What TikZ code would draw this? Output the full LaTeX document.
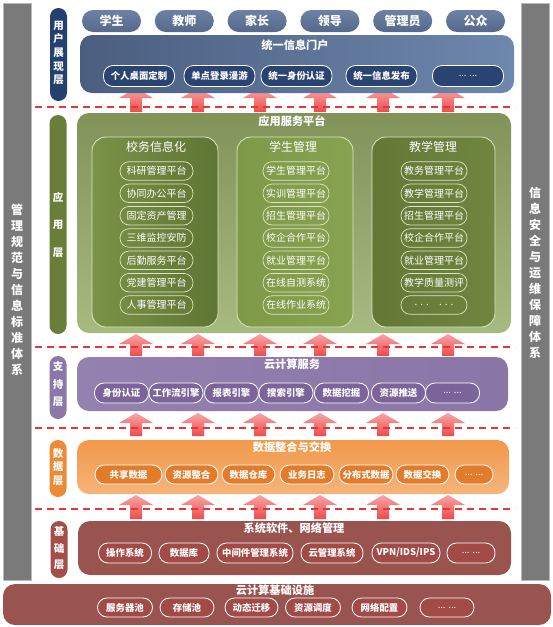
\documentclass[tikz,border=0pt]{standalone}
\usepackage{fontspec}
\setmainfont{Noto Sans CJK SC}
\usepackage{tikz}
\usetikzlibrary{positioning}
\definecolor{barg}{HTML}{7A7A7A}
\definecolor{userc}{HTML}{23406E}
\definecolor{roletop}{HTML}{6C81A5}
\definecolor{rolebot}{HTML}{56698C}
\definecolor{portalL}{HTML}{4B5E80}
\definecolor{portalR}{HTML}{6E87AD}
\definecolor{navc}{HTML}{2B4370}
\definecolor{appc}{HTML}{6A7E3A}
\definecolor{apptop}{HTML}{82935A}
\definecolor{appbot}{HTML}{A7BA80}
\definecolor{colAL}{HTML}{7A9347}
\definecolor{colAR}{HTML}{5F7534}
\definecolor{colBL}{HTML}{7E9A49}
\definecolor{colBR}{HTML}{87A250}
\definecolor{colCL}{HTML}{637835}
\definecolor{colCR}{HTML}{6F8640}
\definecolor{appline}{HTML}{DCE5C2}
\definecolor{svcc}{HTML}{8C78A8}
\definecolor{svcL}{HTML}{9581AF}
\definecolor{svcR}{HTML}{8A76A7}
\definecolor{svcpillc}{HTML}{7B649A}
\definecolor{datac}{HTML}{EC8A36}
\definecolor{datatop}{HTML}{F2984A}
\definecolor{databot}{HTML}{F6B47A}
\definecolor{datapillc}{HTML}{E27B2A}
\definecolor{basec}{HTML}{A24E49}
\definecolor{baseedge}{HTML}{9A5450}
\definecolor{basemid}{HTML}{D5928C}
\definecolor{basepillc}{HTML}{A24A45}
\definecolor{arrowred}{HTML}{EE4A4A}
\definecolor{arrowpink}{HTML}{F7A6A6}
\definecolor{dashred}{HTML}{E83434}
\tikzset{
  sidebar/.style={rectangle, fill=barg, draw=gray!55, line width=0.8pt, inner sep=0pt},
  sidetext/.style={align=center, text=white, font=\bfseries\fontsize{12}{16}\selectfont},
  layerlabel/.style={rectangle, rounded corners=8.5pt, fill=#1, minimum width=17pt, inner sep=0pt},
  labeltext/.style={align=center, text=white, font=\bfseries\fontsize{10.5}{#1}\selectfont},
  layerbox/.style={rectangle, rounded corners=12pt, draw=none, inner sep=0pt},
  boxtitle/.style={text=white, font=\bfseries\fontsize{11.2}{13}\selectfont, inner sep=0pt},
  rolepill/.style={rectangle, rounded corners=11pt, top color=roletop, bottom color=rolebot,
                   minimum width=59pt, minimum height=22pt, inner sep=0pt, text=white,
                   font=\bfseries\fontsize{12}{14}\selectfont},
  pill/.style={rectangle, rounded corners=9.5pt, draw=white, line width=0.8pt, fill=#1, text=white,
               inner sep=0pt, minimum height=19pt, font=\bfseries\fontsize{9.4}{11}\selectfont},
  apppill/.style={rectangle, rounded corners=9pt, draw=appline, line width=0.7pt, text=white,
                  inner sep=0pt, minimum height=18.5pt, font=\fontsize{10}{12}\selectfont},
  innerbox/.style={rectangle, rounded corners=14pt, draw=appline, line width=0.8pt, inner sep=0pt,
                   minimum height=190pt},
  innertitle/.style={text=white, font=\fontsize{12}{14}\selectfont, inner sep=0pt},
  uparrow/.style={top color=arrowpink, bottom color=arrowred},
  divider/.style={draw=dashred, line width=1.1pt, dash pattern=on 7pt off 5pt},
}
\begin{document}
\begin{tikzpicture}[x=1pt, y=-1pt, node distance=13.4pt]
  \useasboundingbox (0,0) rectangle (553,627);
  % side systems
  \node[sidebar, minimum width=28pt, minimum height=577pt] (leftbar) at (17,291.5) {};
  \node[sidebar, minimum width=28pt, minimum height=577pt] (rightbar) at (535,291.5) {};
  \node[sidetext] (lefttext) at (17,290) {管\\理\\规\\范\\与\\信\\息\\标\\准\\体\\系};
  \node[sidetext] (righttext) at (535,272.5) {信\\息\\安\\全\\与\\运\\维\\保\\障\\体\\系};

  % arrows and dividers
  \foreach \tip/\base in {88/112, 334/356, 413/436, 495/519}
    \foreach \x in {136,198,260,320,383,448}
      \shade[uparrow] (\x,\tip) -- (\x+17,\tip+10) -- (\x+6,\tip+10) -- (\x+6,\base)
        -- (\x-6,\base) -- (\x-6,\tip+10) -- (\x-17,\tip+10) -- cycle;
  \foreach \y in {107,347,428,509}
    \draw[divider] (35,\y) -- (515,\y);

  % user layer
  \node[layerlabel=userc, minimum height=93pt] (userlbl) at (58.5,54.5) {};
  \node[labeltext=13.6] (usertxt) at (58.5,53) {用\\户\\展\\现\\层};
  \node[rolepill] (student) at (111.5,21) {学生};
  \node[rolepill, right=of student] (teacher) {教师};
  \node[rolepill, right=of teacher] (parent) {家长};
  \node[rolepill, right=of parent] (leader) {领导};
  \node[rolepill, right=of leader] (admin) {管理员};
  \node[rolepill, right=of admin] (public) {公众};
  \node[layerbox, left color=portalL, right color=portalR, minimum width=434pt, minimum height=58pt] (portal) at (297,64) {};
  \node[boxtitle] (portaltitle) at (295,45) {统一信息门户};
  \node[pill=navc, minimum width=71pt, minimum height=21pt] (desk) at (139,76) {个人桌面定制};
  \node[pill=navc, minimum width=71pt, minimum height=21pt] (sso) at (219.5,76) {单点登录漫游};
  \node[pill=navc, minimum width=71pt, minimum height=21pt] (auth) at (296.5,76) {统一身份认证};
  \node[pill=navc, minimum width=71pt, minimum height=21pt] (publish) at (381.5,76) {统一信息发布};
  \node[pill=navc, minimum width=71pt, minimum height=21pt] (navmore) at (468,76) {\mdseries ... ...};

  % application layer
  \node[layerlabel=appc, minimum height=219pt] (applbl) at (58,224.5) {};
  \node[labeltext=27.5] (apptxt) at (58,224.5) {应\\用\\层};
  \node[layerbox, top color=apptop, bottom color=appbot, minimum width=434pt, minimum height=220pt] (appbox) at (294,223) {};
  \node[boxtitle] (apptitle) at (292,121) {应用服务平台};
  \node[innerbox, left color=colAL, right color=colAR, minimum width=126pt] (colA) at (155,232) {};
  \node[innerbox, left color=colBL, right color=colBR, minimum width=116pt] (colB) at (295,232) {};
  \node[innerbox, left color=colCL, right color=colCR, minimum width=123pt] (colC) at (433.5,232) {};
  \node[innertitle] (colAtitle) at (156,147) {校务信息化};
  \node[innertitle] (colBtitle) at (293,147) {学生管理};
  \node[innertitle] (colCtitle) at (433,147) {教学管理};
  % column A
  \node[apppill, minimum width=73pt] (a1) at (156.5,171) {科研管理平台};
  \node[apppill, minimum width=73pt] (a2) at (156.5,193.3) {协同办公平台};
  \node[apppill, minimum width=73pt] (a3) at (156.5,215.7) {固定资产管理};
  \node[apppill, minimum width=73pt] (a4) at (156.5,238) {三维监控安防};
  \node[apppill, minimum width=73pt] (a5) at (156.5,260.3) {后勤服务平台};
  \node[apppill, minimum width=73pt] (a6) at (156.5,282.7) {党建管理平台};
  \node[apppill, minimum width=73pt] (a7) at (156.5,305) {人事管理平台};
  % column B
  \node[apppill, minimum width=66pt] (b1) at (296,171) {学生管理平台};
  \node[apppill, minimum width=66pt] (b2) at (296,193.3) {实训管理平台};
  \node[apppill, minimum width=66pt] (b3) at (296,215.7) {招生管理平台};
  \node[apppill, minimum width=66pt] (b4) at (296,238) {校企合作平台};
  \node[apppill, minimum width=66pt] (b5) at (296,260.3) {就业管理平台};
  \node[apppill, minimum width=66pt] (b6) at (296,282.7) {在线自测系统};
  \node[apppill, minimum width=66pt] (b7) at (296,305) {在线作业系统};
  % column C
  \node[apppill, minimum width=66pt] (c1) at (434,171) {教务管理平台};
  \node[apppill, minimum width=66pt] (c2) at (434,193.3) {教学管理平台};
  \node[apppill, minimum width=66pt] (c3) at (434,215.7) {招生管理平台};
  \node[apppill, minimum width=66pt] (c4) at (434,238) {校企合作平台};
  \node[apppill, minimum width=66pt] (c5) at (434,260.3) {就业管理平台};
  \node[apppill, minimum width=66pt] (c6) at (434,282.7) {教学质量测评};
  \node[apppill, minimum width=66pt] (c7) at (434,305) {. . .\quad . . .};

  % support layer
  \node[layerlabel=svcc, minimum height=63pt] (svclbl) at (58,387.5) {};
  \node[labeltext=17.5] (svctxt) at (58,384.5) {支\\持\\层};
  \node[layerbox, left color=svcL, right color=svcR, minimum width=431pt, minimum height=54pt] (svcbox) at (292.5,384) {};
  \node[boxtitle] (svctitle) at (292,364) {云计算服务};
  \node[pill=svcpillc, minimum width=54pt, minimum height=20pt] (s1) at (121.5,393) {身份认证};
  \node[pill=svcpillc, minimum width=54pt, minimum height=20pt] (s2) at (176,393) {工作流引擎};
  \node[pill=svcpillc, minimum width=54pt, minimum height=20pt] (s3) at (231.5,393) {报表引擎};
  \node[pill=svcpillc, minimum width=54pt, minimum height=20pt] (s4) at (286,393) {搜索引擎};
  \node[pill=svcpillc, minimum width=54pt, minimum height=20pt] (s5) at (341.5,393) {数据挖掘};
  \node[pill=svcpillc, minimum width=54pt, minimum height=20pt] (s6) at (398.5,393) {资源推送};
  \node[pill=svcpillc, minimum width=54pt, minimum height=20pt] (s7) at (452.5,393) {\mdseries ... ...};

  % data layer
  \node[layerlabel=datac, minimum height=57pt] (datalbl) at (58,468.5) {};
  \node[labeltext=13.5] (datatxt) at (58,467) {数\\据\\层};
  \node[layerbox, top color=datatop, bottom color=databot, minimum width=432pt, minimum height=54pt] (databox) at (293,467) {};
  \node[boxtitle] (datatitle) at (292,447) {数据整合与交换};
  \node[pill=datapillc, minimum width=67pt] (d1) at (128.5,474.5) {共享数据};
  \node[pill=datapillc, minimum width=53pt] (d2) at (191.5,474.5) {资源整合};
  \node[pill=datapillc, minimum width=53pt] (d3) at (248.5,474.5) {数据仓库};
  \node[pill=datapillc, minimum width=54pt] (d4) at (307,474.5) {业务日志};
  \node[pill=datapillc, minimum width=54pt] (d5) at (366,474.5) {分布式数据};
  \node[pill=datapillc, minimum width=53pt] (d6) at (422.5,474.5) {数据交换};
  \node[pill=datapillc, minimum width=38pt] (d7) at (474,474.5) {\mdseries ... ...};

  % base layer
  \node[layerlabel=basec, minimum height=57pt] (baselbl) at (59,549.5) {};
  \node[labeltext=16.5] (basetxt) at (59,548.5) {基\\础\\层};
  \node[layerbox, left color=baseedge, middle color=basemid, right color=baseedge, minimum width=433pt, minimum height=54pt] (basebox) at (294.5,548) {};
  \node[boxtitle] (basetitle) at (294,528) {系统软件、网络管理};
  \node[pill=basepillc, minimum width=53pt, minimum height=20pt] (n1) at (125,553) {操作系统};
  \node[pill=basepillc, minimum width=50pt, minimum height=20pt] (n2) at (184,553) {数据库};
  \node[pill=basepillc, minimum width=76pt, minimum height=20pt] (n3) at (255,553) {中间件管理系统};
  \node[pill=basepillc, minimum width=62pt, minimum height=20pt] (n4) at (332,553) {云管理系统};
  \node[pill=basepillc, minimum width=68pt, minimum height=20pt] (n5) at (406,553) {VPN/IDS/IPS};
  \node[pill=basepillc, minimum width=48pt, minimum height=20pt] (n6) at (471,553) {\mdseries ... ...};

  % cloud infrastructure
  \node[layerbox, left color=baseedge, middle color=basemid, right color=baseedge, minimum width=548pt, minimum height=41pt] (infra) at (277,604.5) {};
  \node[boxtitle] (infratitle) at (275,590) {云计算基础设施};
  \node[pill=basepillc, minimum width=55pt] (i1) at (125,607.5) {服务器池};
  \node[pill=basepillc, minimum width=54pt] (i2) at (187,607.5) {存储池};
  \node[pill=basepillc, minimum width=53pt] (i3) at (251.5,607.5) {动态迁移};
  \node[pill=basepillc, minimum width=55pt] (i4) at (313,607.5) {资源调度};
  \node[pill=basepillc, minimum width=55pt] (i5) at (379.5,607.5) {网络配置};
  \node[pill=basepillc, minimum width=54pt] (i6) at (447,607.5) {\mdseries ... ...};
\end{tikzpicture}
\end{document}
